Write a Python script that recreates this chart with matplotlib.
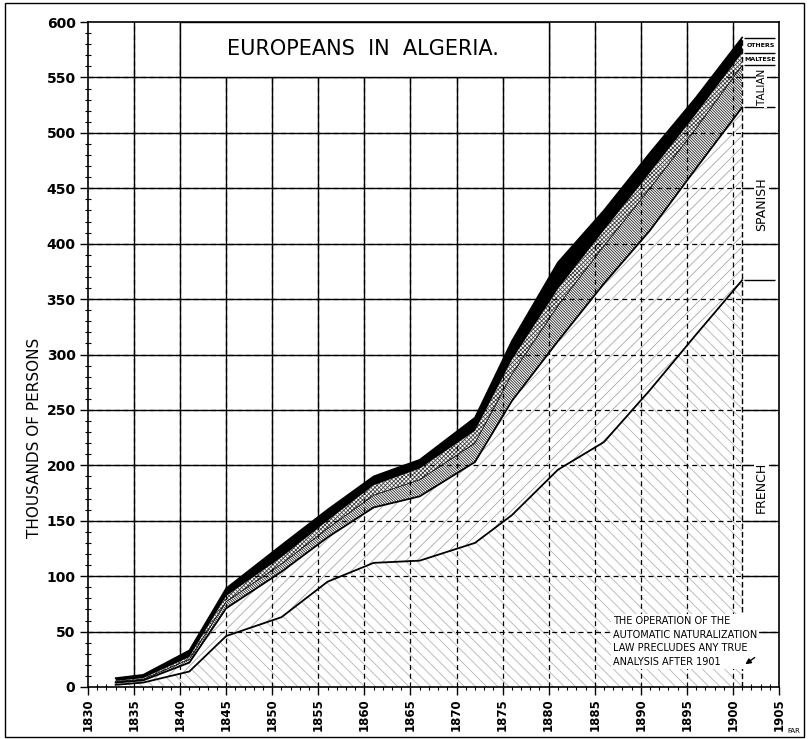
import numpy as np
import matplotlib.pyplot as plt
from matplotlib.patches import Rectangle

# census years and thousands of persons
years = [1833, 1836, 1841, 1845, 1851, 1856, 1861, 1866, 1872, 1876, 1881, 1886, 1891, 1896, 1901]
french = [2, 4, 14, 46, 63, 95, 112, 114, 130, 155, 196, 221, 268, 318, 367]
spanish = [2, 2, 8, 25, 41, 40, 50, 58, 73, 103, 116, 143, 144, 150, 156]
italian = [1, 1, 3, 6, 7, 8, 11, 15, 17, 24, 32, 34, 38, 36, 38]
maltese = [0.5, 1, 2, 5, 6, 7, 9, 10, 11, 13, 15, 14, 14, 13, 11]
others = [2.5, 3, 6, 7, 11, 10, 8, 8, 12, 17, 24, 18, 18, 15, 14]

groups = ['FRENCH', 'SPANISH', 'ITALIAN', 'MALTESE', 'OTHERS']
x_ticks = list(range(1830, 1906, 5))
y_ticks = list(range(0, 601, 50))

stack = np.cumsum([french, spanish, italian, maltese, others], axis=0)

plt.rcParams['hatch.linewidth'] = 0.6

fig = plt.figure(figsize=(8.09, 7.39), dpi=100)
ax = fig.add_axes([88/809, 52/739, 691/809, 665/739])
ax.set_xlim(1830, 1905)
ax.set_ylim(0, 600)

# hand drawn grid: solid where open, dashed over the shaded areas
gx = x_ticks[1:-1]
gy = y_ticks[1:-1]
ax.vlines(gx, 0, 600, colors='black', lw=1.0, zorder=1)
ax.hlines(gy, 1830, 1905, colors='black', lw=1.0, zorder=1)

hatches = ['\\\\\\', '///', '\\' * 12, 'x' * 8, None]
hcolors = ['#b4b4b4', '#a8a8a8', '#222222', '#444444', 'black']
lower = np.zeros(len(years))
for i in range(5):
    if hatches[i] is None:
        ax.fill_between(years, lower, stack[i], facecolor='black', linewidth=0, zorder=2)
    else:
        ax.fill_between(years, lower, stack[i], facecolor='white', edgecolor=hcolors[i],
                        hatch=hatches[i], linewidth=0, zorder=2)
    lower = stack[i]

ax.vlines(gx, 0, 600, colors='black', lw=0.9, linestyles=(0, (4, 3)), zorder=3)
ax.hlines(gy, 1830, 1905, colors='black', lw=0.9, linestyles=(0, (4, 3)), zorder=3)

ax.plot(years, stack[0], color='black', lw=1.3, zorder=4)
ax.plot(years, stack[1], color='black', lw=1.3, zorder=4)
ax.plot(years, stack[2], color='black', lw=0.6, zorder=4)
ax.plot(years, stack[4], color='black', lw=1.2, zorder=4)
ax.vlines(years[-1], 0, stack[4][-1], colors='black', lw=1.0, linestyles=(0, (4, 2)), zorder=4)

# key at the right edge
ax.hlines(stack[:, -1], years[-1] + 0.2, 1904.6, colors='black', lw=1.0, zorder=5)
label_y = [180, 436, 541, 566.5, 579]
for i, name in enumerate(groups):
    if i < 3:
        ax.text(1903.1, label_y[i], name, rotation=90, ha='center', va='center',
                fontsize=[9, 9, 7.5][i], zorder=6,
                bbox=dict(facecolor='white', edgecolor='none', pad=0.5))
    else:
        ax.text(1903.0, label_y[i], name, ha='center', va='center', fontsize=4.5,
                fontweight='bold', zorder=6)

# title box
ax.add_patch(Rectangle((1840, 550), 40, 50, facecolor='white', edgecolor='black', lw=1.0, zorder=5))
ax.text(1859.8, 576, 'EUROPEANS  IN  ALGERIA.', ha='center', va='center', fontsize=15, zorder=6)

ax.text(1887, 64, 'THE OPERATION OF THE\nAUTOMATIC NATURALIZATION\nLAW PRECLUDES ANY TRUE\nANALYSIS AFTER 1901',
        ha='left', va='top', fontsize=7, linespacing=1.45, zorder=6,
        bbox=dict(facecolor='white', edgecolor='none', pad=1.5))
ax.annotate('', xy=(1901.1, 19), xytext=(1902.6, 28), zorder=7,
            arrowprops=dict(arrowstyle='-|>', color='black', lw=1.0, mutation_scale=8))

ax.set_xticks(x_ticks)
ax.set_xticklabels([str(v) for v in x_ticks], rotation=90, fontsize=8.5, fontweight='bold')
ax.set_yticks(y_ticks)
ax.set_yticklabels([str(v) for v in y_ticks], fontsize=10, fontweight='bold')
ax.set_xticks(range(1830, 1906), minor=True)
ax.set_yticks(range(0, 601, 10), minor=True)
ax.tick_params(which='major', direction='out', length=6, width=1, pad=3)
ax.tick_params(axis='x', which='major', pad=2)
ax.tick_params(which='minor', direction='inout', length=4, width=0.8)
for s in ax.spines.values():
    s.set_linewidth(1.2)

ax.set_ylabel('THOUSANDS OF PERSONS', fontsize=11)
ax.yaxis.set_label_coords(-0.067, 0.375)

fig.patches.append(Rectangle((5/809, 2/739), 799/809, 734/739, transform=fig.transFigure,
                             fill=False, edgecolor='black', lw=1.0))
fig.text(794/809, 1 - 731/739, 'FAR', fontsize=5, ha='center', va='center')

fig.savefig('out.png', dpi=100)
